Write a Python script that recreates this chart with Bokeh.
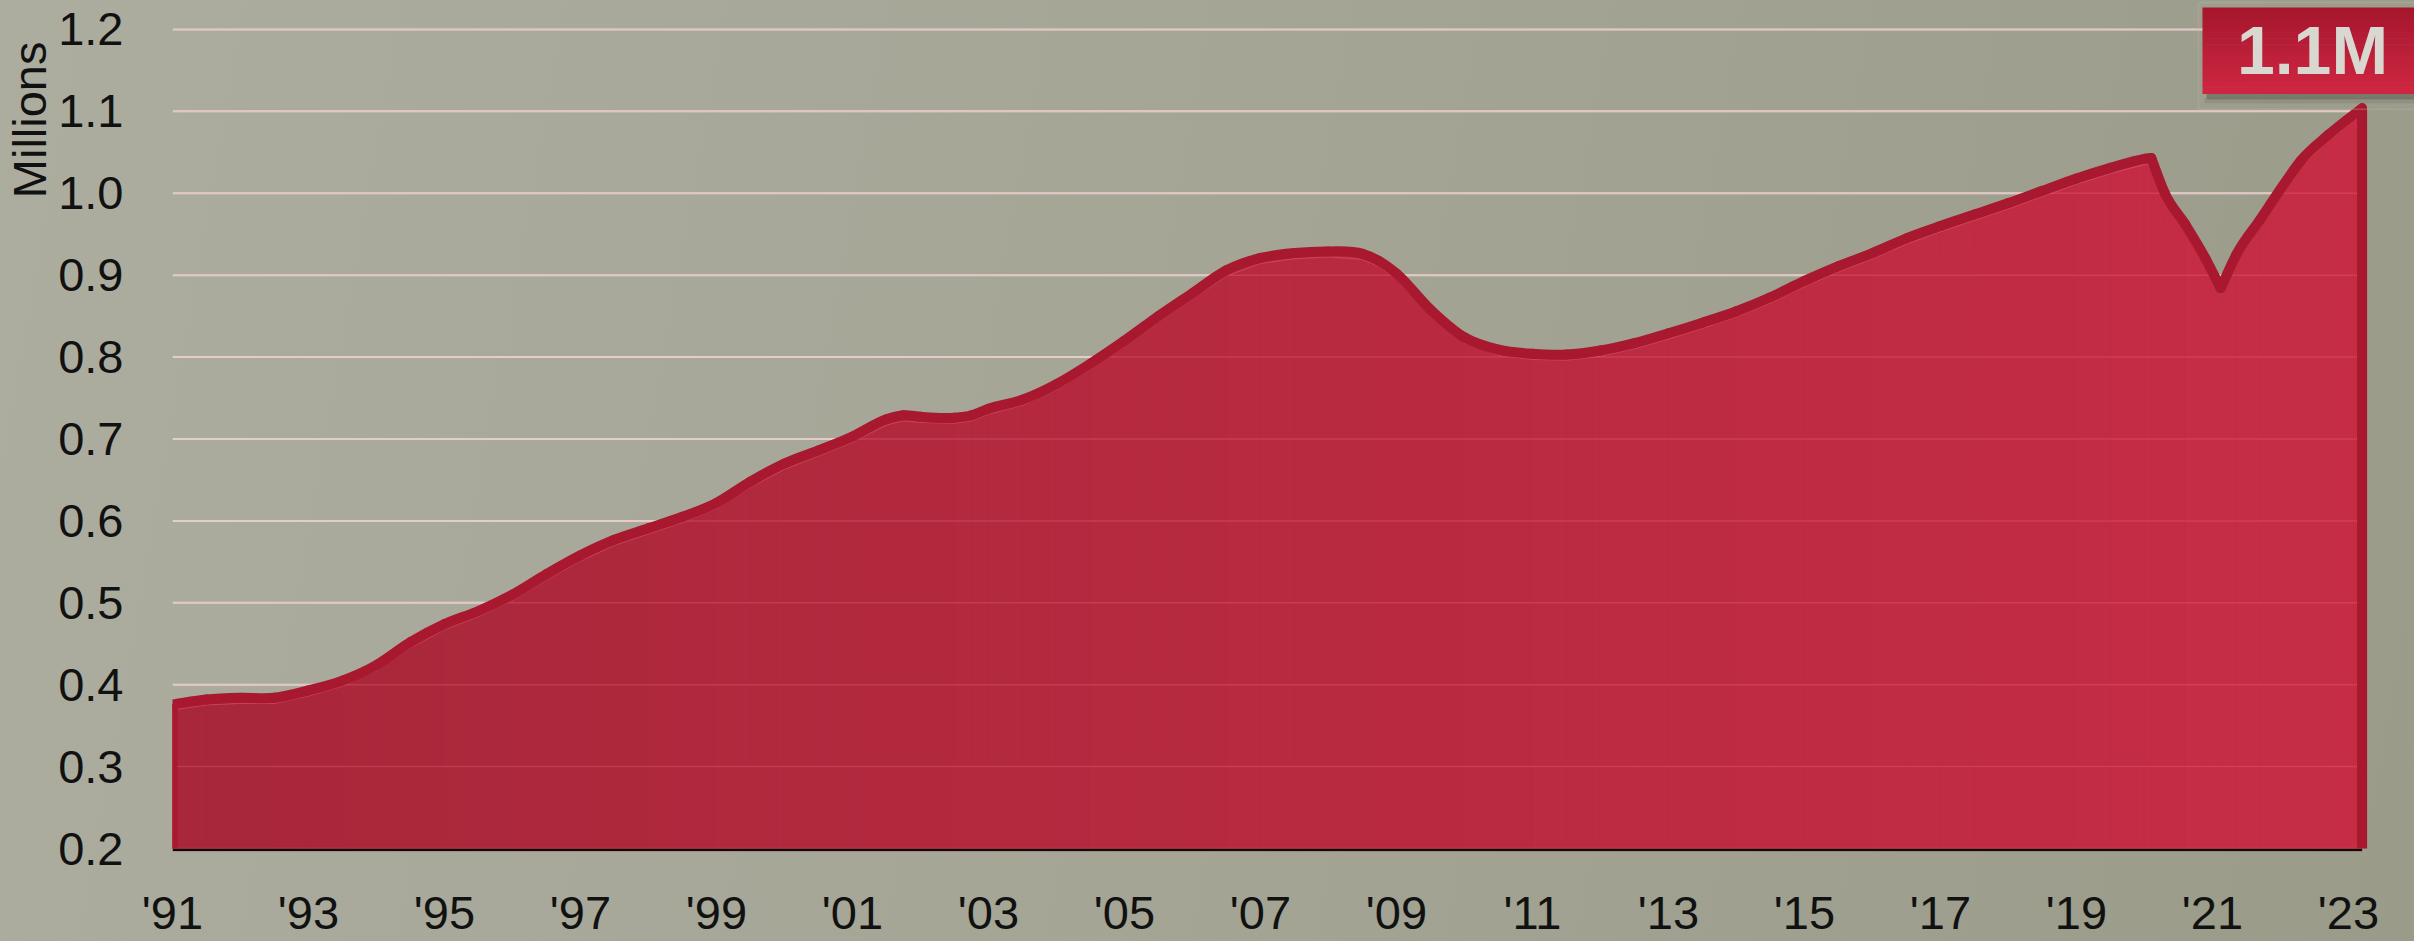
from bokeh.plotting import figure
from bokeh.models import FixedTicker, NumeralTickFormatter, Label, Range1d, BoxAnnotation, Title
from bokeh.embed import file_html
from bokeh.resources import INLINE

# ---- data ----
years = [1991.0, 1991.5, 1992.0, 1992.5, 1993.0, 1993.5, 1994.0, 1994.5, 1995.0, 1995.5,
         1996.0, 1996.5, 1997.0, 1997.5, 1998.0, 1998.5, 1999.0, 1999.5, 2000.0, 2000.5,
         2001.0, 2001.5, 2001.75, 2002.0, 2002.5, 2002.75, 2003.0, 2003.5, 2004.0, 2004.5,
         2005.0, 2005.5, 2006.0, 2006.5, 2007.0, 2007.5, 2008.0, 2008.5, 2008.75, 2009.0,
         2009.5, 2010.0, 2010.5, 2011.0, 2011.5, 2012.0, 2012.5, 2013.0, 2013.5, 2014.0,
         2014.5, 2015.0, 2015.5, 2016.0, 2016.5, 2017.0, 2017.5, 2018.0, 2018.5, 2019.0,
         2019.5, 2020.0, 2020.1, 2020.3, 2020.6, 2020.9, 2021.12, 2021.35, 2021.7, 2022.0,
         2022.3, 2022.7, 2023.2]
units_millions = [0.376, 0.382, 0.384, 0.384, 0.393, 0.405, 0.424, 0.452, 0.474, 0.490,
                  0.510, 0.535, 0.558, 0.577, 0.591, 0.605, 0.622, 0.648, 0.670, 0.686,
                  0.703, 0.724, 0.729, 0.727, 0.726, 0.729, 0.737, 0.748, 0.767, 0.792,
                  0.820, 0.850, 0.878, 0.906, 0.921, 0.927, 0.929, 0.926, 0.917, 0.902,
                  0.858, 0.824, 0.809, 0.804, 0.803, 0.808, 0.817, 0.829, 0.842, 0.856,
                  0.873, 0.893, 0.911, 0.927, 0.945, 0.960, 0.974, 0.988, 1.003, 1.018,
                  1.031, 1.042, 1.043, 1.000, 0.962, 0.920, 0.884, 0.925, 0.968, 1.005,
                  1.040, 1.071, 1.104]
y_ticks = [0.2, 0.3, 0.4, 0.5, 0.6, 0.7, 0.8, 0.9, 1.0, 1.1, 1.2]
x_tick_years = [1991, 1993, 1995, 1997, 1999, 2001, 2003, 2005, 2007, 2009, 2011,
                2013, 2015, 2017, 2019, 2021, 2023]
x_tick_labels = ["'91", "'93", "'95", "'97", "'99", "'01", "'03", "'05", "'07", "'09",
                 "'11", "'13", "'15", "'17", "'19", "'21", "'23"]
badge_text = "1.1M"
y_axis_title = "Millions"

# ---- layout constants (pixels) ----
W, H = 2414, 941
FL, FB = 172, 853            # frame left, frame bottom (page px)
PX_YEAR = 68.0               # px per year
PX_UNIT = 821.0              # px per 1.0 million
BASE = 0.2
FONT = "Liberation Sans"

x_start = years[0]
x_end = x_start + (W - FL) / PX_YEAR
y_start = BASE - (FB - 850) / PX_UNIT
y_end = y_start + FB / PX_UNIT

def tx(px):   # page x -> data x
    return x_start + (px - FL) / PX_YEAR

def ty(py):   # page y -> data y
    return BASE + (850 - py) / PX_UNIT

p = figure(width=W, height=H, output_backend="svg", toolbar_location=None,
           x_range=Range1d(x_start, x_end), y_range=Range1d(y_start, y_end),
           min_border_left=FL, min_border_right=0, min_border_top=0, min_border_bottom=H - FB)
p.styles = {"background": "linear-gradient(100deg, #ACAD9F 0%, #A4A595 50%, #9A9B89 100%)"}
p.background_fill_alpha = 0
p.border_fill_alpha = 0
p.outline_line_color = None
p.xgrid.grid_line_color = None
p.ygrid.grid_line_color = None

# axes
p.yaxis.ticker = FixedTicker(ticks=y_ticks)
p.yaxis.formatter = NumeralTickFormatter(format="0.0")
p.yaxis.axis_line_color = None
p.yaxis.major_tick_line_color = None
p.yaxis.minor_tick_line_color = None
p.yaxis.major_tick_out = 0
p.yaxis.major_tick_in = 0
p.yaxis.major_label_standoff = 49
p.yaxis.major_label_text_font = FONT
p.yaxis.major_label_text_font_size = "47px"
p.yaxis.major_label_text_color = "#111111"

p.xaxis.ticker = FixedTicker(ticks=x_tick_years)
p.xaxis.major_label_overrides = {y: l for y, l in zip(x_tick_years, x_tick_labels)}
p.xaxis.axis_line_color = None
p.xaxis.major_tick_line_color = None
p.xaxis.minor_tick_line_color = None
p.xaxis.major_tick_out = 0
p.xaxis.major_tick_in = 0
p.xaxis.major_label_standoff = 34
p.xaxis.major_label_text_font = FONT
p.xaxis.major_label_text_font_size = "47px"
p.xaxis.major_label_text_color = "#111111"

# y title near the top, on the left
p.add_layout(Title(text=y_axis_title, align="right", offset=41, standoff=0,
                   text_font=FONT, text_font_size="47px", text_font_style="normal",
                   text_color="#111111"), "left")

# horizontal grid lines (end where the data ends)
n = len(y_ticks)
p.segment(x0=[years[0]] * n, x1=[years[-1]] * n, y0=y_ticks, y1=y_ticks,
          line_color="#E4E4DE", line_width=2)

# area fill with horizontal colour gradient
left_rgb = (0xA8, 0x27, 0x3A)
right_rgb = (0xC6, 0x2D, 0x45)
x0, x1 = years[0], years[-1]
def grad(t):
    f = (t - x0) / (x1 - x0)
    return "#%02x%02x%02x" % tuple(int(round(a + (b - a) * f)) for a, b in zip(left_rgb, right_rgb))

p.varea(x=years, y1=[BASE] * len(years), y2=units_millions, fill_color=grad((x0 + x1) / 2))
xs, ys, cols = [], [], []
for i in range(len(years) - 1):
    xs.append([years[i], years[i], years[i + 1], years[i + 1]])
    ys.append([BASE, units_millions[i], units_millions[i + 1], BASE])
    cols.append(grad((years[i] + years[i + 1]) / 2))
p.patches(xs=xs, ys=ys, fill_color=cols, line_color=cols, line_width=1.2)

# faint grid lines showing through the area
p.segment(x0=[years[0]] * n, x1=[years[-1]] * n, y0=y_ticks, y1=y_ticks,
          line_color="#F07080", line_alpha=0.28, line_width=1.5)

# thin inner highlight of the fill edge
p.line(x=years, y=[v - 0.0068 for v in units_millions], line_color="#E86A7A", line_alpha=0.4,
       line_width=1.2)

# dark base line under the area
p.segment(x0=[years[0]], x1=[years[-1]], y0=[BASE - 1.6 / PX_UNIT], y1=[BASE - 1.6 / PX_UNIT],
          line_color="#160608", line_width=2.5)

# thick smoothed outline: cubic Hermite segments drawn as Bezier curves
STROKE = "#A8182F"
m = len(years)
sec = [(units_millions[i + 1] - units_millions[i]) / (years[i + 1] - years[i]) for i in range(m - 1)]
t_left, t_right = [0.0] * m, [0.0] * m
for i in range(m):
    if i == 0:
        t_left[i] = t_right[i] = sec[0]
    elif i == m - 1:
        t_left[i] = t_right[i] = sec[-1]
    else:
        h0, h1 = years[i] - years[i - 1], years[i + 1] - years[i]
        if abs(sec[i - 1] - sec[i]) > 0.2:      # sharp corner
            t_left[i], t_right[i] = sec[i - 1], sec[i]
        else:
            s = (sec[i - 1] * h1 + sec[i] * h0) / (h0 + h1)
            t_left[i] = t_right[i] = s
bx0, by0, bx1, by1, bcx0, bcy0, bcx1, bcy1 = [], [], [], [], [], [], [], []
for i in range(m - 1):
    h = years[i + 1] - years[i]
    bx0.append(years[i]); by0.append(units_millions[i])
    bx1.append(years[i + 1]); by1.append(units_millions[i + 1])
    bcx0.append(years[i] + h / 3); bcy0.append(units_millions[i] + h / 3 * t_right[i])
    bcx1.append(years[i + 1] - h / 3); bcy1.append(units_millions[i + 1] - h / 3 * t_left[i + 1])
p.bezier(x0=bx0, y0=by0, x1=bx1, y1=by1, cx0=bcx0, cy0=bcy0, cx1=bcx1, cy1=bcy1,
         line_color=STROKE, line_width=10, line_cap="round")
p.line(x=[years[0], years[0]], y=[BASE, units_millions[0]], line_color=STROKE, line_width=10)
p.line(x=[years[-1], years[-1]], y=[units_millions[-1], BASE], line_color=STROKE, line_width=10)

# ---- badge ----
p.add_layout(BoxAnnotation(left=tx(2198), right=tx(2600), top=ty(2), bottom=ty(109),
                           fill_alpha=0, line_color="#BBBCAE", line_width=1.5))
p.add_layout(BoxAnnotation(left=tx(2206), right=tx(2600), top=ty(92), bottom=ty(99),
                           fill_color="#3A3A30", fill_alpha=0.35, line_color=None))
p.add_layout(BoxAnnotation(left=tx(2204), right=tx(2600), top=ty(98), bottom=ty(103),
                           fill_color="#3A3A30", fill_alpha=0.12, line_color=None))
top_rgb = (0xA6, 0x17, 0x2E)
bot_rgb = (0xCE, 0x26, 0x41)
nb = 14
for k in range(nb):
    f = k / (nb - 1)
    c = "#%02x%02x%02x" % tuple(int(round(a + (b - a) * f)) for a, b in zip(top_rgb, bot_rgb))
    yt = 7 + (93 - 7) * k / nb
    yb = 7 + (93 - 7) * (k + 1) / nb + 0.6
    p.add_layout(BoxAnnotation(left=tx(2202), right=tx(2600), top=ty(yt), bottom=ty(yb),
                               fill_color=c, fill_alpha=1, line_color=None))
p.add_layout(Label(x=tx(2312), y=ty(50), text=badge_text, text_font=FONT, text_font_style="bold",
                   text_font_size="68px", text_color="#D8D8D0",
                   text_align="center", text_baseline="middle"))

open("out.html", "w").write(file_html(p, INLINE))
